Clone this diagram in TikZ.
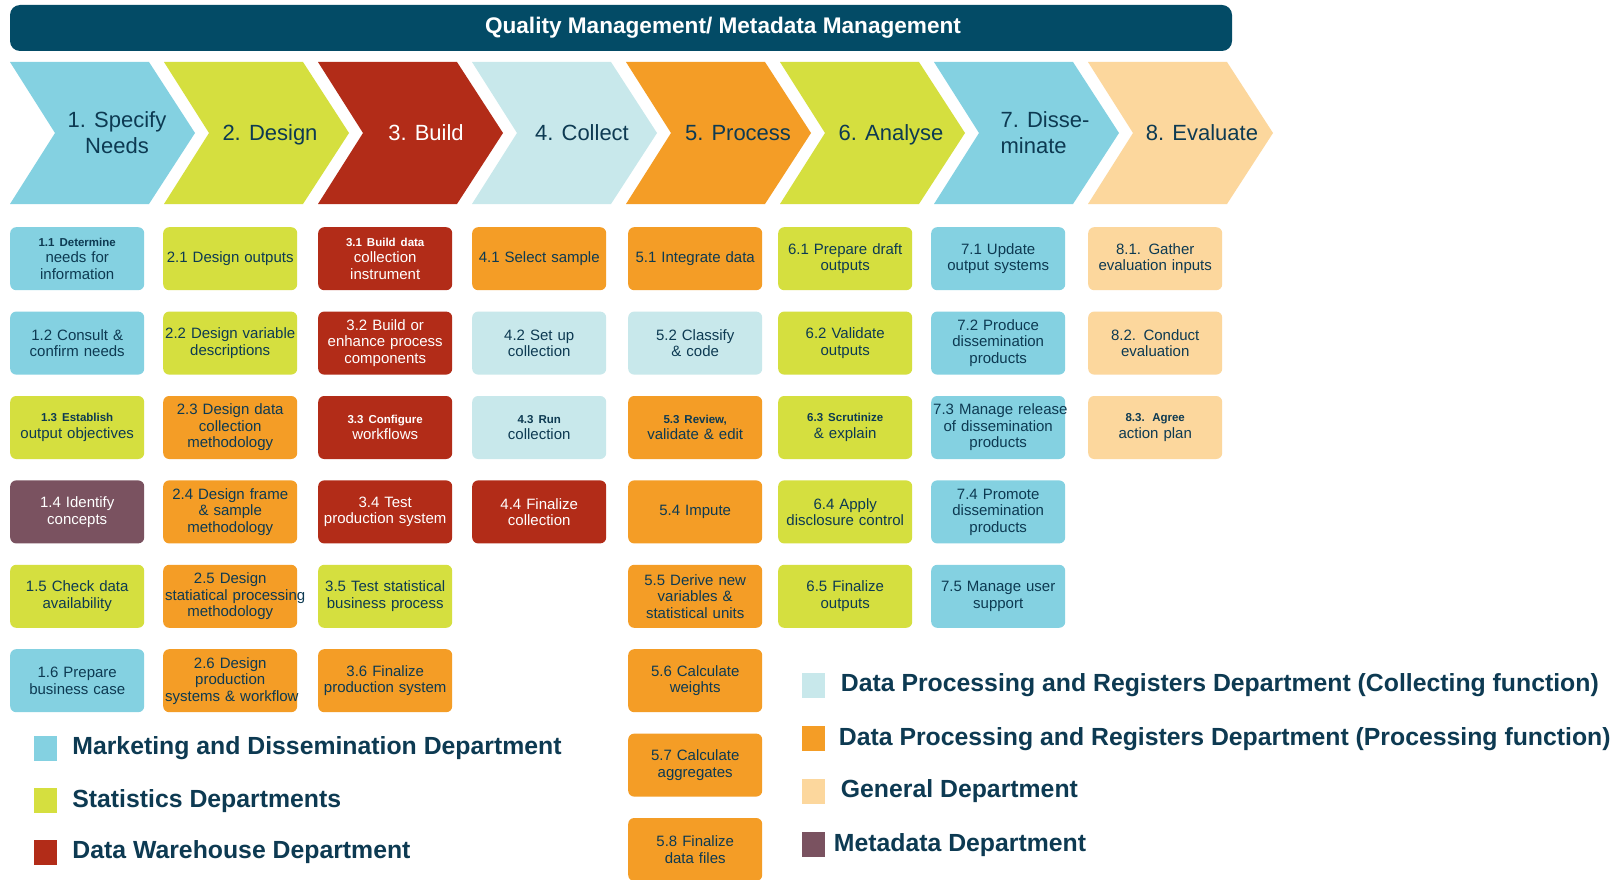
\documentclass[tikz,border=0pt]{standalone}
\usepackage{fontspec}
\setmainfont{Liberation Sans}
\usetikzlibrary{positioning}

\definecolor{mkt}{RGB}{132,209,225}
\definecolor{stat}{RGB}{213,223,63}
\definecolor{dwh}{RGB}{178,44,24}
\definecolor{coll}{RGB}{200,232,235}
\definecolor{proc}{RGB}{244,157,38}
\definecolor{gen}{RGB}{252,215,157}
\definecolor{meta}{RGB}{122,82,96}
\definecolor{bar}{RGB}{3,75,102}
\definecolor{ink}{RGB}{13,58,82}

\hyphenpenalty=10000
\exhyphenpenalty=10000
\newcommand{\smallhead}[1]{{\fontsize{11.5}{12}\selectfont\bfseries #1}}

\begin{document}
\begin{tikzpicture}
[x=1pt,y=-1pt,node distance=21pt,
box/.style={rounded corners=6pt, minimum width=134pt, minimum height=63pt, text width=130pt,
  inner xsep=2pt, inner ysep=0pt, align=center, text=ink, font=\fontsize{15}{16.5}\selectfont},
dark/.style={text=white},
phase/.style={text=ink, align=center, inner sep=0pt, text depth=0pt, font=\fontsize{22}{26}\selectfont},
key/.style={minimum width=23pt, minimum height=25pt, inner sep=0pt},
keytext/.style={inner sep=0pt, text=ink, font=\fontsize{24.8}{28}\selectfont\bfseries}]
\clip (0,0) rectangle (1619,880);
\fill[white] (0,0) rectangle (1619,880);

\fill[bar, rounded corners=10pt] (10,5) rectangle (1232,51);
\node[text=white, font=\fontsize{22.6}{26}\selectfont\bfseries] (title) at (723,28) {Quality Management/ Metadata Management};

% phases
\fill[mkt]  (10,62)   -- ++(139,0) -- ++(46,71) -- ++(-46,71) -- ++(-139,0) -- ++(45,-71) -- cycle;
\fill[stat] (164,62)  -- ++(139,0) -- ++(46,71) -- ++(-46,71) -- ++(-139,0) -- ++(45,-71) -- cycle;
\fill[dwh]  (318,62)  -- ++(139,0) -- ++(46,71) -- ++(-46,71) -- ++(-139,0) -- ++(45,-71) -- cycle;
\fill[coll] (472,62)  -- ++(139,0) -- ++(46,71) -- ++(-46,71) -- ++(-139,0) -- ++(45,-71) -- cycle;
\fill[proc] (626,62)  -- ++(139,0) -- ++(46,71) -- ++(-46,71) -- ++(-139,0) -- ++(45,-71) -- cycle;
\fill[stat] (780,62)  -- ++(139,0) -- ++(46,71) -- ++(-46,71) -- ++(-139,0) -- ++(45,-71) -- cycle;
\fill[mkt]  (934,62)  -- ++(139,0) -- ++(46,71) -- ++(-46,71) -- ++(-139,0) -- ++(45,-71) -- cycle;
\fill[gen]  (1088,62) -- ++(139,0) -- ++(46,71) -- ++(-46,71) -- ++(-139,0) -- ++(45,-71) -- cycle;

\node[phase] (p1) at (117,133) {1. Specify\\Needs};
\node[phase] (p2) at (270,133) {2. Design};
\node[phase, dark] (p3) at (426,133) {3. Build};
\node[phase] (p4) at (582,133) {4. Collect};
\node[phase] (p5) at (738,133) {5. Process};
\node[phase] (p6) at (891,133) {6. Analyse};
\node[phase, align=left] (p7) at (1045,133) {7. Disse-\\minate};
\node[phase] (p8) at (1202,133) {8. Evaluate};

% sub-processes, column by column
\node[box, fill=mkt, anchor=north west] (s11) at (10,227) {\smallhead{1.1 Determine}\\needs for\\information};
\node[box, fill=mkt, below=of s11] (s12) {1.2 Consult \&\\confirm needs};
\node[box, fill=stat, below=of s12] (s13) {\smallhead{1.3 Establish}\\output~objectives};
\node[box, fill=meta, dark, below=of s13] (s14) {1.4 Identify\\concepts};
\node[box, fill=stat, below=of s14] (s15) {1.5 Check data\\availability};
\node[box, fill=mkt, below=of s15] (s16) {1.6 Prepare\\business case};

\node[box, fill=stat, anchor=north west] (s21) at (163,227) {2.1~Design~outputs};
\node[box, fill=stat, below=of s21] (s22) {2.2~Design~variable\\descriptions};
\node[box, fill=proc, below=of s22] (s23) {2.3 Design data\\collection\\methodology};
\node[box, fill=proc, below=of s23] (s24) {2.4 Design frame\\\& sample\\methodology};
\node[box, fill=proc, below=of s24] (s25) {2.5 Design\\statiatical~processing\\methodology};
\node[box, fill=proc, below=of s25] (s26) {2.6 Design\\production\\systems~\&~workflow};

\node[box, fill=dwh, dark, anchor=north west] (s31) at (318,227) {\smallhead{3.1 Build data}\\collection\\instrument};
\node[box, fill=dwh, dark, below=of s31] (s32) {3.2 Build or\\enhance~process\\components};
\node[box, fill=dwh, dark, below=of s32] (s33) {\smallhead{3.3 Configure}\\workflows};
\node[box, fill=dwh, dark, below=of s33] (s34) {3.4 Test\\production~system};
\node[box, fill=stat, below=of s34] (s35) {3.5~Test~statistical\\business~process};
\node[box, fill=proc, below=of s35] (s36) {3.6 Finalize\\production~system};

\node[box, fill=proc, anchor=north west] (s41) at (472,227) {4.1~Select~sample};
\node[box, fill=coll, below=of s41] (s42) {4.2 Set up\\collection};
\node[box, fill=coll, below=of s42] (s43) {\smallhead{4.3 Run}\\collection};
\node[box, fill=dwh, dark, below=of s43] (s44) {4.4 Finalize\\collection};

\node[box, fill=proc, anchor=north west] (s51) at (628,227) {5.1~Integrate~data};
\node[box, fill=coll, below=of s51] (s52) {5.2 Classify\\\& code};
\node[box, fill=proc, below=of s52] (s53) {\smallhead{5.3 Review,}\\validate \& edit};
\node[box, fill=proc, below=of s53] (s54) {5.4 Impute};
\node[box, fill=proc, below=of s54] (s55) {5.5~Derive~new\\variables \&\\statistical~units};
\node[box, fill=proc, below=of s55] (s56) {5.6 Calculate\\weights};
\node[box, fill=proc, below=of s56] (s57) {5.7 Calculate\\aggregates};
\node[box, fill=proc, below=of s57] (s58) {5.8 Finalize\\data files};

\node[box, fill=stat, anchor=north west] (s61) at (778,227) {6.1~Prepare~draft\\outputs};
\node[box, fill=stat, below=of s61] (s62) {6.2 Validate\\outputs};
\node[box, fill=stat, below=of s62] (s63) {\smallhead{6.3 Scrutinize}\\\& explain};
\node[box, fill=stat, below=of s63] (s64) {6.4 Apply\\disclosure~control};
\node[box, fill=stat, below=of s64] (s65) {6.5 Finalize\\outputs};

\node[box, fill=mkt, anchor=north west] (s71) at (931,227) {7.1 Update\\output~systems};
\node[box, fill=mkt, below=of s71] (s72) {7.2 Produce\\dissemination\\products};
\node[box, fill=mkt, below=of s72] (s73) {7.3~Manage~release\\of~dissemination\\products};
\node[box, fill=mkt, below=of s73] (s74) {7.4 Promote\\dissemination\\products};
\node[box, fill=mkt, below=of s74] (s75) {7.5~Manage~user\\support};

\node[box, fill=gen, anchor=north west] (s81) at (1088,227) {8.1. Gather\\evaluation~inputs};
\node[box, fill=gen, below=of s81] (s82) {8.2. Conduct\\evaluation};
\node[box, fill=gen, below=of s82] (s83) {\smallhead{8.3. Agree}\\action plan};

% departments
\node[key, fill=mkt] (kmkt) at (45.5,748.5) {};
\node[key, fill=stat, below=27pt of kmkt] (kstat) {};
\node[key, fill=dwh, below=26pt of kstat] (kdwh) {};
\node[keytext, right=15pt of kmkt] (tmkt) {Marketing and Dissemination Department};
\node[keytext, right=15pt of kstat] (tstat) {Statistics Departments};
\node[keytext, right=15pt of kdwh] (tdwh) {Data Warehouse Department};

\node[key, fill=coll] (kcoll) at (813,685.5) {};
\node[key, fill=proc, below=28pt of kcoll] (kproc) {};
\node[key, fill=gen, below=27pt of kproc] (kgen) {};
\node[key, fill=meta, below=28pt of kgen] (kmeta) {};
\node[keytext, right=16pt of kcoll] (tcoll) {Data Processing and Registers Department (Collecting function)};
\node[keytext, right=14pt of kproc] (tproc) {Data Processing and Registers Department (Processing function)};
\node[keytext, right=16pt of kgen] (tgen) {General Department};
\node[keytext, right=9pt of kmeta] (tmeta) {Metadata Department};
\end{tikzpicture}
\end{document}
